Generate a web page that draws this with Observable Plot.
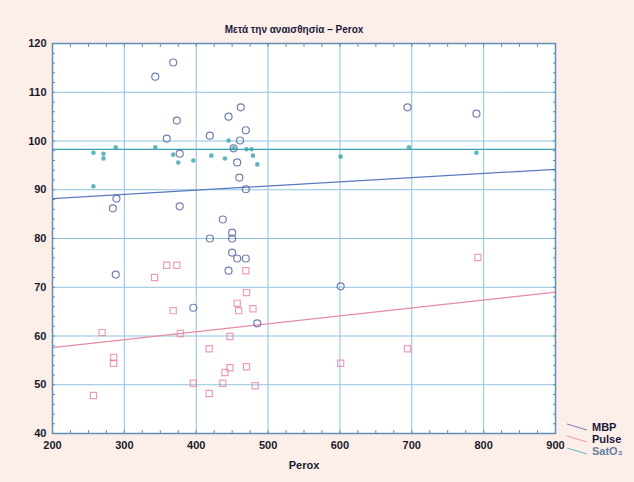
<!DOCTYPE html>
<html>
<head>
<meta charset="utf-8">
<script src="https://cdn.jsdelivr.net/npm/d3@7"></script>
<script src="https://cdn.jsdelivr.net/npm/@observablehq/plot@0.6"></script>
<style>
  html, body { margin: 0; padding: 0; background: #fcefea; }
  #wrap { position: relative; width: 634px; height: 482px; }
  #legend { position: absolute; left: 566px; top: 421px; font: bold 11px "Liberation Sans", Arial, sans-serif; line-height: 12px; }
  #legend div { display: flex; align-items: center; height: 12px; }
  #legend svg { margin-right: 4px; }
</style>
</head>
<body>
<div id="wrap"></div>
<script>
const title = "Μετά την αναισθησία – Perox";
const xLabel = "Perox";
const seriesNames = ["MBP", "Pulse", "SatO₂"];
const seriesColors = ["#4f5f9c", "#e77d9d", "#3aa3ad"];

const xTicks = [200, 300, 400, 500, 600, 700, 800, 900];
const yTicks = [40, 50, 60, 70, 80, 90, 100, 110, 120];

// MBP (Perox, value)
const mbpX = [368, 343, 373, 359, 419, 445, 462, 469, 461, 452, 377, 457, 460, 469, 289, 284, 377, 437, 450, 450, 419, 450, 457, 469, 445, 288, 396, 485, 601, 694, 790];
const mbpY = [116.1, 113.2, 104.2, 100.5, 101.1, 105, 106.9, 102.2, 100.1, 98.5, 97.4, 95.6, 92.5, 90.1, 88.2, 86.2, 86.6, 83.9, 81.2, 80, 80, 77.1, 75.9, 75.9, 73.4, 72.6, 65.8, 62.6, 70.2, 106.9, 105.6];

// Pulse
const pulseX = [342, 359, 373, 469, 470, 457, 459, 479, 368, 269, 378, 447, 418, 285, 285, 447, 440, 470, 396, 437, 482, 418, 257, 601, 694, 792];
const pulseY = [72, 74.5, 74.5, 73.4, 68.9, 66.7, 65.2, 65.6, 65.2, 60.7, 60.5, 59.9, 57.4, 55.6, 54.4, 53.5, 52.5, 53.7, 50.3, 50.3, 49.8, 48.2, 47.8, 54.4, 57.4, 76.1];

// SatO2
const satX = [257, 271, 271, 288, 343, 368, 375, 396, 421, 440, 445, 470, 477, 479, 485, 257, 601, 696, 790, 452];
const satY = [97.6, 97.4, 96.4, 98.7, 98.7, 97.2, 95.6, 96, 97, 96.4, 100.1, 98.3, 98.3, 97, 95.2, 90.7, 96.8, 98.7, 97.6, 98.5];

// fitted lines
const fitX = [200, 900];
const mbpFit = [88.2, 94.2];
const pulseFit = [57.6, 69.0];
const satFit = [98.3, 98.3];

const toPts = (xs, ys) => xs.map((x, i) => ({x, y: ys[i]}));
const mbp = toPts(mbpX, mbpY);
const pulse = toPts(pulseX, pulseY);
const sat = toPts(satX, satY);

const font = '"Liberation Sans", Arial, sans-serif';
const minorX = d3.range(200, 901, 25);
const minorY = d3.range(40, 121, 2);

const chart = Plot.plot({
  width: 634,
  height: 482,
  marginLeft: 52,
  marginRight: 79,
  marginTop: 43,
  marginBottom: 49,
  style: { background: "transparent", fontFamily: font, fontSize: "11px", fontWeight: "bold", color: "#1a1a2a", overflow: "visible" },
  x: { domain: [200, 900], ticks: xTicks },
  y: { domain: [40, 120], ticks: yTicks },
  marks: [
    Plot.frame({ fill: "white", stroke: "none" }),
    Plot.gridX(xTicks, { stroke: "#8fc3dd", strokeOpacity: 1, strokeWidth: 1 }),
    Plot.gridY(yTicks, { stroke: "#8fc3dd", strokeOpacity: 1, strokeWidth: 1 }),
    Plot.axisX({ ticks: minorX, tickSize: -3, tickFormat: () => "", stroke: "#5f8fb5", label: null }),
    Plot.axisX({ anchor: "top", ticks: minorX, tickSize: -3, tickFormat: () => "", stroke: "#5f8fb5", label: null }),
    Plot.axisY({ ticks: minorY, tickSize: -3, tickFormat: () => "", stroke: "#5f8fb5", label: null }),
    Plot.axisY({ anchor: "right", ticks: minorY, tickSize: -3, tickFormat: () => "", stroke: "#5f8fb5", label: null }),
    Plot.axisX({ ticks: xTicks, tickSize: 0, tickPadding: 8, label: null }),
    Plot.axisY({ ticks: yTicks, tickSize: 0, tickPadding: 6, label: null }),
    Plot.text([xLabel], { frameAnchor: "bottom", dy: 35, fontSize: 11, fontWeight: "bold", fill: "#1a1a2a" }),
    Plot.text([title], { frameAnchor: "top", dy: -18, dx: -10, fontSize: 10, fontWeight: "bold", fill: "#1a1a3a" }),
    Plot.line(fitX.map((x, i) => ({x, y: satFit[i]})), { x: "x", y: "y", stroke: seriesColors[2], strokeWidth: 1.3 }),
    Plot.line(fitX.map((x, i) => ({x, y: mbpFit[i]})), { x: "x", y: "y", stroke: "#5a78c0", strokeWidth: 1.3 }),
    Plot.line(fitX.map((x, i) => ({x, y: pulseFit[i]})), { x: "x", y: "y", stroke: "#e68aa8", strokeWidth: 1.3 }),
    Plot.dot(sat, { x: "x", y: "y", r: 2.3, fill: seriesColors[2], fillOpacity: 0.8, stroke: "none" }),
    Plot.dot(pulse, { x: "x", y: "y", symbol: "square", r: 3.5, stroke: seriesColors[1], strokeWidth: 1.2, fill: "none", strokeOpacity: 0.75 }),
    Plot.dot(mbp, { x: "x", y: "y", r: 3.5, stroke: seriesColors[0], strokeWidth: 1.2, fill: "none", strokeOpacity: 0.8 }),
    Plot.frame({ stroke: "#5f8fb5", strokeWidth: 1.5 })
  ]
});

const wrap = document.getElementById("wrap");
wrap.appendChild(chart);

const legend = document.createElement("div");
legend.id = "legend";
seriesNames.forEach((name, i) => {
  const row = document.createElement("div");
  row.innerHTML = `<svg width="22" height="10"><line x1="1" y1="2" x2="21" y2="8" stroke="${seriesColors[i]}" stroke-width="1.2" opacity="0.7"/></svg><span style="color:${i === 2 ? '#6a7fa0' : '#1a1a3a'}">${name}</span>`;
  legend.appendChild(row);
});
wrap.appendChild(legend);
</script>
</body>
</html>
